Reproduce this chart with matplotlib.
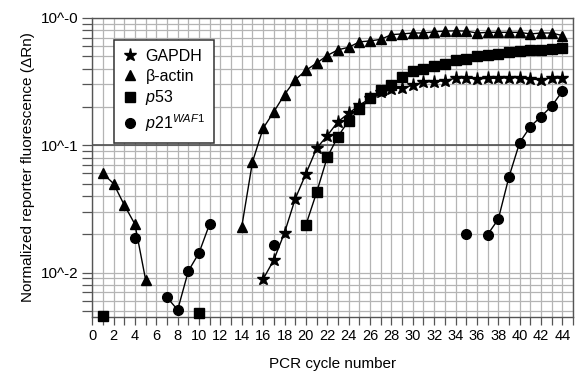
import numpy as np
import matplotlib
matplotlib.use('Agg')
import matplotlib.pyplot as plt
from matplotlib.ticker import FixedLocator, NullFormatter

plt.rcParams['font.family'] = ['Liberation Sans', 'DejaVu Sans']
plt.rcParams['mathtext.fontset'] = 'custom'
plt.rcParams['mathtext.rm'] = 'Liberation Sans'
plt.rcParams['mathtext.it'] = 'Liberation Sans:italic'

nan = np.nan

# beta-actin (triangles)
actin_x = [1, 2, 3, 4, 5, nan] + list(range(14, 45))
actin_y = [0.060, 0.050, 0.034, 0.024, 0.0088, nan,
           0.023, 0.074, 0.136, 0.183, 0.25, 0.326, 0.387, 0.441, 0.506, 0.561,
           0.587, 0.647, 0.659, 0.677, 0.738, 0.747, 0.76, 0.76, 0.777, 0.786,
           0.79, 0.786, 0.76, 0.769, 0.769, 0.769, 0.769, 0.747, 0.76, 0.76, 0.725]

# GAPDH (stars)
gapdh_x = list(range(16, 45))
gapdh_y = [0.0089, 0.0126, 0.0206, 0.038, 0.0597, 0.0945, 0.119, 0.153, 0.178,
           0.206, 0.233, 0.262, 0.277, 0.282, 0.295, 0.313, 0.316, 0.322, 0.335,
           0.339, 0.331, 0.335, 0.335, 0.339, 0.339, 0.331, 0.326, 0.339, 0.335]

# p53 (squares)
p53_x = [1, nan, 10, nan] + list(range(20, 45))
p53_y = [0.0046, nan, 0.0048, nan,
         0.0237, 0.0426, 0.0807, 0.117, 0.156, 0.191, 0.235, 0.271, 0.295, 0.345,
         0.382, 0.397, 0.421, 0.433, 0.464, 0.472, 0.500, 0.509, 0.520, 0.536,
         0.545, 0.555, 0.561, 0.570, 0.584]

# p21 WAF1 (circles)
p21_x = [4, nan, 7, 8, 9, 10, 11, nan, 17, nan, 35, nan, 37, 38, 39, 40, 41, 42, 43, 44]
p21_y = [0.0187, nan, 0.0064, 0.0051, 0.0103, 0.0143, 0.0242, nan, 0.0164, nan,
         0.020, nan, 0.0199, 0.0263, 0.0565, 0.105, 0.140, 0.168, 0.203, 0.266]

fig = plt.figure(figsize=(5.76, 3.71), dpi=100)
ax = fig.add_axes([0.160, 0.146, 0.835, 0.806])

ax.set_yscale('log')
ax.set_xlim(0, 45)
ax.set_ylim(0.0045, 1.0)

# grid
ax.set_xticks(range(0, 45, 2))
ax.set_xticks(range(0, 46), minor=True)
ax.grid(True, which='both', axis='x', color='#b4b4b4', lw=0.9)
ylines = [m * 10.0 ** e for e in (-3, -2, -1) for m in range(1, 10)]
ax.yaxis.set_major_locator(FixedLocator([0.01, 0.1, 1.0]))
ax.yaxis.set_minor_locator(FixedLocator([v for v in ylines if v not in (0.01, 0.1)]))
ax.yaxis.set_minor_formatter(NullFormatter())
ax.set_yticklabels(['10^-2', '10^-1', '10^-0'])
ax.grid(True, which='minor', axis='y', color='#b4b4b4', lw=0.9)
ax.grid(True, which='major', axis='y', color='#b4b4b4', lw=0.9)
ax.axhline(0.1, color='#505050', lw=1.2, zorder=1.5)
ax.set_axisbelow(True)

for s in ax.spines.values():
    s.set_color('#555555')
    s.set_linewidth(1.0)

ax.tick_params(axis='both', which='both', direction='out', color='#555555', width=0.9)
ax.tick_params(axis='x', which='major', length=6, labelsize=10.5, pad=3)
ax.tick_params(axis='x', which='minor', length=6)
ax.tick_params(axis='y', which='major', length=7, labelsize=11, pad=3)
ax.tick_params(axis='y', which='minor', length=7)

kw = dict(color='black', lw=1.0, clip_on=False, zorder=3)
ax.plot(gapdh_x, gapdh_y, marker='*', ms=9.5, label='GAPDH', **kw)
ax.plot(actin_x, actin_y, marker='^', ms=7.5, label='β-actin', **kw)
ax.plot(p53_x, p53_y, marker='s', ms=6.5, label=r'$\mathit{p53}$', **kw)
ax.plot(p21_x, p21_y, marker='o', ms=7, label=r'$\mathit{p21}^{\mathit{WAF1}}$', **kw)

leg = ax.legend(loc='upper left', bbox_to_anchor=(0.046, 0.926), fontsize=11.5,
                frameon=True, fancybox=False, edgecolor='#333333', framealpha=1,
                handlelength=0.9, handletextpad=0.5, labelspacing=0.3,
                borderpad=0.55, borderaxespad=0)
for h in leg.get_lines():
    h.set_linestyle('none')
leg.get_frame().set_linewidth(1.1)

ax.set_xlabel('PCR cycle number', fontsize=11, labelpad=10)
ax.set_ylabel('Normalized reporter fluorescence (ΔRn)', fontsize=11, labelpad=4)

plt.savefig('out.png', dpi=100)
